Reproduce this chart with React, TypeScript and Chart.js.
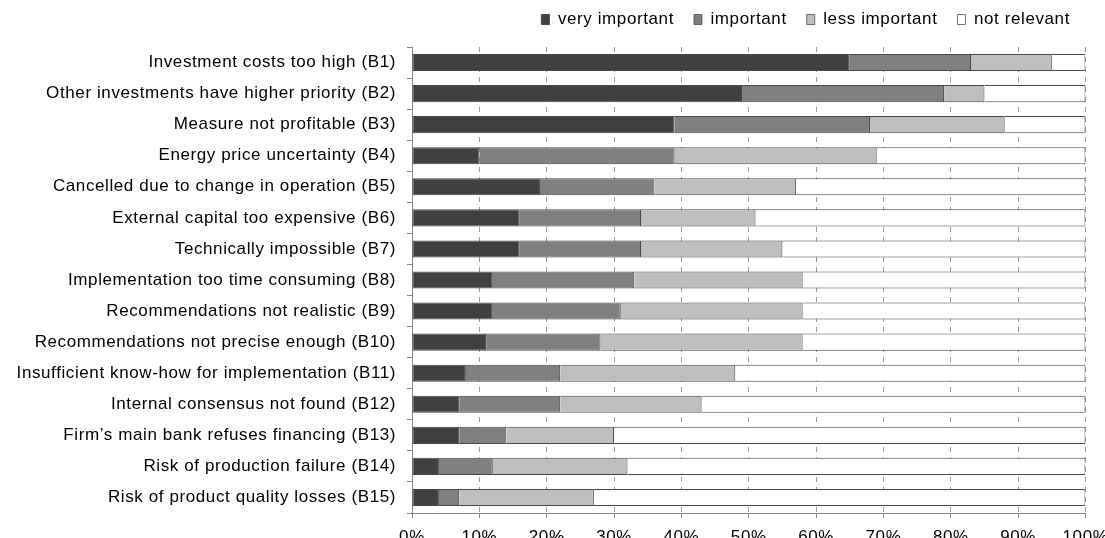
import React, { useEffect, useRef } from 'react';
import { Chart, registerables } from 'chart.js';

Chart.register(...registerables);

const categories = [
  'Investment costs too high (B1)',
  'Other investments have higher priority (B2)',
  'Measure not profitable (B3)',
  'Energy price uncertainty (B4)',
  'Cancelled due to change in operation (B5)',
  'External capital too expensive (B6)',
  'Technically impossible (B7)',
  'Implementation too time consuming (B8)',
  'Recommendations not realistic (B9)',
  'Recommendations not precise enough (B10)',
  'Insufficient know-how for implementation (B11)',
  'Internal consensus not found (B12)',
  'Firm\u2019s main bank refuses financing (B13)',
  'Risk of production failure (B14)',
  'Risk of product quality losses (B15)',
];

const seriesNames = ['very important', 'important', 'less important', 'not relevant'];
const veryImportant = [65, 49, 39, 10, 19, 16, 16, 12, 12, 11, 8, 7, 7, 4, 4];
const important = [18, 30, 29, 29, 17, 18, 18, 21, 19, 17, 14, 15, 7, 8, 3];
const lessImportant = [12, 6, 20, 30, 21, 17, 21, 25, 27, 30, 26, 21, 16, 20, 20];
const notRelevant = [5, 15, 12, 31, 43, 49, 45, 42, 42, 42, 52, 57, 70, 68, 73];
const xTicks = [0, 10, 20, 30, 40, 50, 60, 70, 80, 90, 100];

const FONT = '"Liberation Sans", Arial, sans-serif';
const FONT_SIZE = 17;
const fills = ['#404040', '#808080', '#bfbfbf', '#ffffff'];
const edge = '#474747';

export default function App() {
  const ref = useRef<HTMLCanvasElement | null>(null);

  useEffect(() => {
    if (!ref.current) return;
    const values = [veryImportant, important, lessImportant, notRelevant];
    const spacing = (chart: any) => {
      const ctx = chart.ctx as any;
      if (ctx && 'letterSpacing' in ctx) ctx.letterSpacing = '0.6px';
    };
    const textLook = {
      id: 'textLook',
      beforeInit(chart: any) {
        spacing(chart);
        const lg = chart.legend;
        if (!lg) return;
        const orig = lg.fit;
        lg.fit = function () {
          spacing(chart);
          orig.call(this);
          this.height = 56;
        };
      },
      beforeUpdate: spacing,
      beforeLayout: spacing,
      beforeDraw: spacing,
    };
    const chart = new Chart(ref.current, {
      type: 'bar',
      data: {
        labels: categories,
        datasets: seriesNames.map((name, i) => ({
          label: name,
          data: values[i],
          backgroundColor: fills[i],
          borderColor: edge,
          borderWidth: { top: 1, right: 1, bottom: 1, left: i === 0 ? 1 : 0 },
          borderSkipped: false,
          barPercentage: 0.55,
          categoryPercentage: 1,
        })),
      },
      options: {
        indexAxis: 'y',
        animation: false,
        responsive: false,
        devicePixelRatio: 1,
        layout: { padding: { top: -9, right: 15, left: 0, bottom: 0 } },
        plugins: {
          tooltip: { enabled: false },
          legend: {
            position: 'top',
            align: 'end',
            labels: {
              boxWidth: 8,
              boxHeight: 10,
              padding: 20,
              color: '#000',
              font: { family: FONT, size: FONT_SIZE },
            },
          },
        },
        scales: {
          x: {
            stacked: true,
            min: 0,
            max: 100,
            afterBuildTicks(scale: any) {
              scale.ticks = xTicks.map((v) => ({ value: v }));
            },
            afterFit(scale: any) {
              scale.height = 25;
              scale.paddingRight = 19.5;
            },
            ticks: {
              callback: (v: any) => v + '%',
              color: '#000',
              padding: 9,
              maxRotation: 0,
              font: { family: FONT, size: FONT_SIZE },
            },
            grid: {
              color: '#9a9a9a',
              lineWidth: 1,
              drawTicks: true,
              tickLength: 5,
              tickColor: '#868686',
              tickBorderDash: [],
            },
            border: { display: true, color: '#868686', width: 1, dash: [5, 5] },
          },
          y: {
            stacked: true,
            afterFit(scale: any) {
              scale.width = 412;
            },
            ticks: {
              color: '#000',
              padding: 11,
              autoSkip: false,
              font: { family: FONT, size: FONT_SIZE },
            },
            grid: {
              offset: true,
              drawOnChartArea: false,
              drawTicks: true,
              tickLength: 5,
              color: '#868686',
              tickColor: '#868686',
            },
            border: { display: true, color: '#868686', width: 1 },
          },
        },
      },
      plugins: [textLook],
    } as any);
    return () => chart.destroy();
  }, []);

  return (
    <div style={{ position: 'fixed', left: 0, top: 0, width: 1105, height: 538, background: '#fff' }}>
      <canvas ref={ref} width={1105} height={538} style={{ display: 'block' }} />
    </div>
  );
}
